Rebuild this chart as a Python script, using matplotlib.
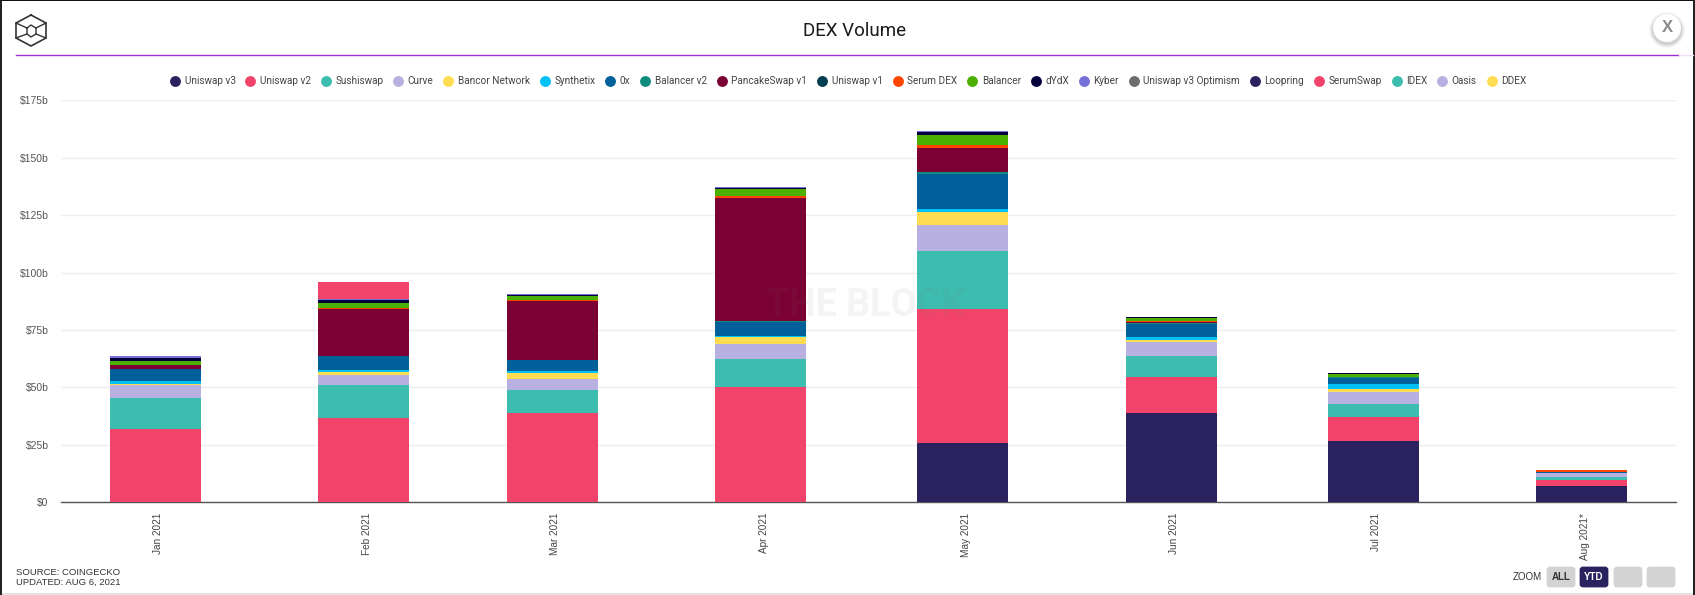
from datetime import date

import matplotlib
matplotlib.use("Agg")
import matplotlib.pyplot as plt
from matplotlib.lines import Line2D
from matplotlib.patches import Circle, FancyBboxPatch, Rectangle
from matplotlib.transforms import ScaledTranslation
import numpy as np

W, H = 1695, 595

months = [date(2021, m, 1) for m in range(1, 9)]
month_labels = ["Jan 2021", "Feb 2021", "Mar 2021", "Apr 2021",
                "May 2021", "Jun 2021", "Jul 2021", "Aug 2021*"]
y_ticks = [0, 25, 50, 75, 100, 125, 150, 175]
y_labels = ["$0", "$25b", "$50b", "$75b", "$100b", "$125b", "$150b", "$175b"]

# monthly volume per exchange, in billions of dollars
uniswap_v3 = [0, 0, 0, 0, 25.8, 38.9, 26.7, 7.2]
uniswap_v2 = [31.9, 36.6, 38.9, 50.2, 58.3, 15.8, 10.4, 2.5]
sushiswap = [13.4, 14.5, 9.9, 12.2, 25.4, 9.0, 5.7, 1.3]
curve = [5.8, 4.3, 5.0, 6.6, 11.2, 6.2, 5.2, 1.6]
bancor = [0.4, 1.3, 2.5, 3.1, 5.8, 0.9, 1.3, 0.2]
synthetix = [1.3, 0.9, 0.9, 0.3, 1.2, 1.2, 2.1, 0.1]
zero_x = [5.1, 5.9, 4.6, 6.3, 15.3, 5.6, 2.6, 0.3]
balancer_v2 = [0, 0.1, 0.3, 0.2, 0.8, 0.6, 0.5, 0.1]
pancakeswap = [1.7, 20.4, 25.5, 53.5, 10.4, 0.3, 0.1, 0.05]
uniswap_v1 = [0, 0, 0, 0, 0, 0, 0, 0]
serum_dex = [0.2, 0.7, 0.5, 0.9, 1.5, 0.6, 0.1, 0.5]
balancer = [1.6, 2.2, 1.9, 3.0, 4.3, 1.2, 1.1, 0.15]
dydx = [1.3, 1.2, 0.3, 0.5, 1.2, 0.4, 0.6, 0]
kyber = [0.8, 0.4, 0.4, 0.4, 0.5, 0, 0, 0]
uniswap_v3_optimism = [0, 0, 0, 0, 0, 0, 0, 0]
loopring = [0, 0, 0, 0, 0, 0, 0, 0]
serumswap = [0, 7.5, 0, 0, 0, 0, 0, 0]
idex = [0, 0, 0, 0, 0, 0, 0, 0]
oasis = [0, 0, 0, 0, 0, 0, 0, 0]
ddex = [0, 0, 0, 0, 0, 0, 0, 0]

names = ["Uniswap v3", "Uniswap v2", "Sushiswap", "Curve", "Bancor Network",
         "Synthetix", "0x", "Balancer v2", "PancakeSwap v1", "Uniswap v1",
         "Serum DEX", "Balancer", "dYdX", "Kyber", "Uniswap v3 Optimism",
         "Loopring", "SerumSwap", "IDEX", "Oasis", "DDEX"]
series = [uniswap_v3, uniswap_v2, sushiswap, curve, bancor,
          synthetix, zero_x, balancer_v2, pancakeswap, uniswap_v1,
          serum_dex, balancer, dydx, kyber, uniswap_v3_optimism,
          loopring, serumswap, idex, oasis, ddex]
colors = ["#2a225f", "#f2446b", "#3dbcb0", "#b8b0e0", "#ffdc50",
          "#00c0f5", "#00619a", "#0e8c7c", "#7b0033", "#003f4f",
          "#ff4500", "#4cb000", "#04003b", "#7570d8", "#6e6e6e",
          "#2a225f", "#f2446b", "#3dbcb0", "#b8b0e0", "#ffdc50"]

fig = plt.figure(figsize=(W / 100, H / 100), dpi=100, facecolor="white")

# chart area, set up in pixels from the top left corner
ax = fig.add_axes([61 / W, 1 - 502.3 / H, (1676 - 61) / W, 402 / H])
bottom = np.zeros(len(months))
for name, values, color in zip(names, series, colors):
    values = np.array(values)
    ax.bar(months, values, width=13.5, bottom=bottom, color=color,
           linewidth=0, label=name, zorder=3)
    bottom += values

ax.set_xlim(date(2020, 12, 18), date(2021, 8, 15))
ax.set_ylim(0, 175)
ax.set_xticks(months)
ax.set_xticklabels(month_labels, rotation=90, fontsize=7.2,
                   family="Liberation Sans", color="#444444")
ax.set_yticks(y_ticks)
ax.set_yticklabels(y_labels, fontsize=7.5, family="Liberation Sans", color="#555555")
ax.tick_params(axis="x", length=0, pad=7.5)
ax.tick_params(axis="y", length=0, pad=9)
# month labels sit a little right of the bar centres, has to come after tick_params
shift = ScaledTranslation(3 / 100, 0, fig.dpi_scale_trans)
for lab in ax.get_xticklabels():
    lab.set_transform(lab.get_transform() + shift)
ax.grid(axis="y", color="#eeeeee", linewidth=1, zorder=0)
ax.set_axisbelow(True)
for side in ["top", "right", "left"]:
    ax.spines[side].set_visible(False)
ax.spines["bottom"].set_color("#555555")
ax.spines["bottom"].set_linewidth(1)
ax.patch.set_alpha(0)

handles = [Line2D([], [], linestyle="", marker="o", markersize=6.8, color=c) for c in colors]
fig.legend(handles, names, ncol=20, frameon=False, loc="center",
           bbox_to_anchor=(849 / W, 1 - 81.5 / H), prop={"family": "Roboto", "size": 7.2},
           labelcolor="#444444", handlelength=0.7, handletextpad=0.6, columnspacing=1.14,
           borderpad=0)

# overlay for the title bar, logo and buttons
ov = fig.add_axes([0, 0, 1, 1], zorder=5)
ov.set_xlim(0, W)
ov.set_ylim(H, 0)
ov.axis("off")
ov.patch.set_alpha(0)

ov.text(855, 31.5, "DEX Volume", ha="center", va="center", fontsize=13.5,
        family="Roboto", color="#1a1a1a")
ov.plot([16, 1679], [55, 55], color="#9b30d0", linewidth=1)
ov.plot([1679, 1693], [55, 55], color="#f0e0f5", linewidth=1)
ov.text(865, 306, "THE BLOCK", ha="center", va="center", fontsize=27,
        family="Roboto", fontweight="bold", color="#777777", alpha=0.08)

# cube logo
logo = "#333333"
ov.plot([31, 46, 46, 31, 16, 16, 31], [15, 23, 38, 46, 38, 23, 15], color=logo, linewidth=1.2)
ov.plot([27, 31, 36, 36, 31, 27, 27], [28, 25, 28, 34, 37, 34, 28], color=logo, linewidth=1.0)
ov.plot([16, 27], [23, 28], color=logo, linewidth=1.0)
ov.plot([46, 36], [23, 28], color=logo, linewidth=1.0)
ov.plot([16, 27], [38, 34], color=logo, linewidth=1.0)
ov.plot([46, 36], [38, 34], color=logo, linewidth=1.0)

# close button with a soft shadow
for r, a in [(18, 0.03), (17, 0.04), (16, 0.05), (15, 0.07)]:
    ov.add_patch(Circle((1667, 30), r, color="black", alpha=a, linewidth=0))
ov.add_patch(Circle((1667, 28), 14, color="white", linewidth=0))
ov.text(1667, 28, "X", ha="center", va="center", fontsize=12,
        family="Liberation Sans", fontweight="bold", color="#8a8a8a")

ov.text(16, 572.5, "SOURCE: COINGECKO", ha="left", va="center", fontsize=6.8,
        family="Liberation Sans", color="#333333")
ov.text(16, 582.5, "UPDATED: AUG 6, 2021", ha="left", va="center", fontsize=6.8,
        family="Liberation Sans", color="#333333")

ov.text(1527, 576.5, "ZOOM", ha="center", va="center", fontsize=7,
        family="Liberation Sans", color="#333333")
buttons = [(1547, "ALL", "#d3d3d3", "#333333"), (1580, "YTD", "#2a225f", "white"),
           (1614, "", "#d3d3d3", "#333333"), (1647, "", "#d3d3d3", "#333333")]
for x0, label, face, ink in buttons:
    ov.add_patch(FancyBboxPatch((x0 + 1, 568), 26, 18, boxstyle="round,pad=0,rounding_size=2",
                                facecolor=face, edgecolor=face, linewidth=2))
    ov.text(x0 + 14, 576.5, label, ha="center", va="center", fontsize=7,
            family="Liberation Sans", fontweight="bold", color=ink)

# dark page edges around the panel
ov.add_patch(Rectangle((0, 0), 2, H, color="#222222", linewidth=0))
ov.add_patch(Rectangle((0, 0), W, 1, color="#111111", linewidth=0))
ov.add_patch(Rectangle((1693, 0), 2, H, color="#222222", linewidth=0))
ov.add_patch(Rectangle((2, 593), 1691, 2, color="#e4e4e4", linewidth=0))

fig.savefig("out.png", dpi=100)
